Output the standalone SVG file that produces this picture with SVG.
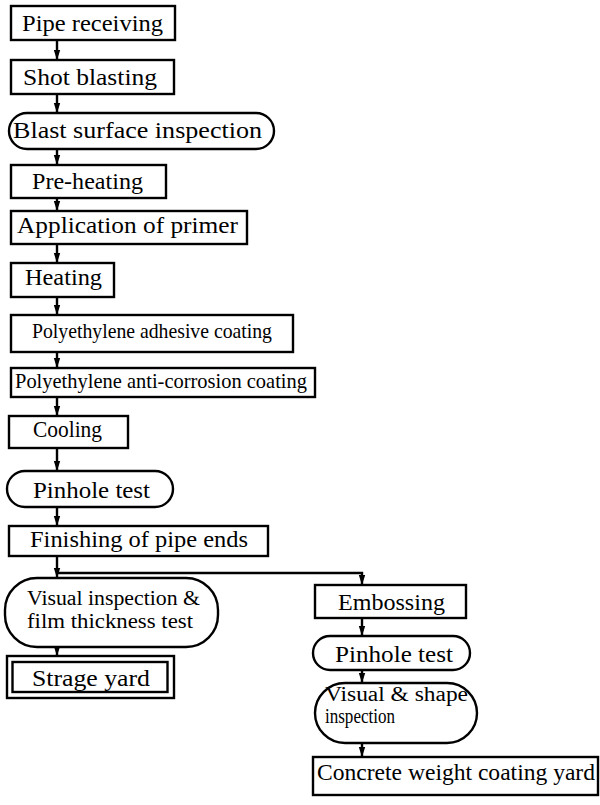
<svg xmlns="http://www.w3.org/2000/svg" width="600" height="805" viewBox="0 0 600 805">
<style>
.b{fill:#fff;stroke:#000;stroke-width:2.4}
.t{font-family:"Liberation Serif","Times New Roman",serif;font-size:24px;fill:#000}
.s{font-size:21px}
.m{font-size:20px}
.c{fill:none;stroke:#000;stroke-width:2.4}
</style>
<defs>
<marker id="ad" markerWidth="8" markerHeight="10" refX="4" refY="10" orient="0" markerUnits="userSpaceOnUse" viewBox="0 0 8 10">
<path d="M0.8,0 L7.2,0 L4,10 Z" fill="#000"/>
</marker>
</defs>
<rect width="600" height="805" fill="#fff"/>
<g id="connectors">
<path class="c" d="M57,40 V60" marker-end="url(#ad)"/>
<path class="c" d="M57,94 V113" marker-end="url(#ad)"/>
<path class="c" d="M57,149 V165" marker-end="url(#ad)"/>
<path class="c" d="M57,198 V211" marker-end="url(#ad)"/>
<path class="c" d="M57,244 V263" marker-end="url(#ad)"/>
<path class="c" d="M57,297 V315" marker-end="url(#ad)"/>
<path class="c" d="M57,352 V368" marker-end="url(#ad)"/>
<path class="c" d="M57,397 V416" marker-end="url(#ad)"/>
<path class="c" d="M57,448 V471" marker-end="url(#ad)"/>
<path class="c" d="M57,507 V526" marker-end="url(#ad)"/>
<path class="c" d="M57,556 V578" marker-end="url(#ad)"/>
<path class="c" d="M57,573 H362 V585" marker-end="url(#ad)"/>
<path class="c" d="M57,647 V656" marker-end="url(#ad)"/>
<path class="c" d="M362,618 V636" marker-end="url(#ad)"/>
<path class="c" d="M362,670 V683" marker-end="url(#ad)"/>
<path class="c" d="M362,743 V757" marker-end="url(#ad)"/>
</g>
<g id="n1"><rect class="b" x="11" y="6" width="164" height="34"/><text class="t" x="22" y="31" textLength="141" lengthAdjust="spacingAndGlyphs">Pipe receiving</text></g>
<g id="n2"><rect class="b" x="11" y="60" width="163" height="34"/><text class="t" x="23" y="85" textLength="134" lengthAdjust="spacingAndGlyphs">Shot blasting</text></g>
<g id="n3"><rect class="b" x="9" y="113" width="265" height="36" rx="18" ry="18"/><text class="t" x="13" y="138" textLength="249" lengthAdjust="spacingAndGlyphs">Blast surface inspection</text></g>
<g id="n4"><rect class="b" x="11" y="165" width="155" height="33"/><text class="t" x="32" y="189" textLength="111" lengthAdjust="spacingAndGlyphs">Pre-heating</text></g>
<g id="n5"><rect class="b" x="11" y="211" width="236" height="33"/><text class="t" x="17" y="233" textLength="221" lengthAdjust="spacingAndGlyphs">Application of primer</text></g>
<g id="n6"><rect class="b" x="11" y="263" width="103" height="34"/><text class="t" x="25" y="285" textLength="77" lengthAdjust="spacingAndGlyphs">Heating</text></g>
<g id="n7"><rect class="b" x="11" y="315" width="282" height="37"/><text class="t s" x="32" y="338" textLength="240" lengthAdjust="spacingAndGlyphs">Polyethylene adhesive coating</text></g>
<g id="n8"><rect class="b" x="11" y="368" width="304" height="29"/><text class="t s" x="15" y="388" textLength="292" lengthAdjust="spacingAndGlyphs">Polyethylene anti-corrosion coating</text></g>
<g id="n9"><rect class="b" x="9" y="416" width="119" height="32"/><text class="t" x="33" y="437" textLength="69" lengthAdjust="spacingAndGlyphs">Cooling</text></g>
<g id="n10"><rect class="b" x="7" y="471" width="166" height="36" rx="18" ry="18"/><text class="t" x="33" y="498" textLength="117" lengthAdjust="spacingAndGlyphs">Pinhole test</text></g>
<g id="n11"><rect class="b" x="9" y="526" width="259" height="30"/><text class="t" x="30" y="547" textLength="218" lengthAdjust="spacingAndGlyphs">Finishing of pipe ends</text></g>
<g id="n12"><rect class="b" x="5" y="578" width="213" height="69" rx="32" ry="32"/><text class="t m" x="27" y="605" textLength="173" lengthAdjust="spacingAndGlyphs">Visual inspection &amp;</text><text class="t m" x="27" y="628" textLength="166" lengthAdjust="spacingAndGlyphs">film thickness test</text></g>
<g id="n13"><rect class="b" x="7" y="656" width="167" height="42"/><rect class="b" x="12.5" y="662" width="155" height="30" stroke-width="3"/><text class="t" x="32" y="686" textLength="118" lengthAdjust="spacingAndGlyphs">Strage yard</text></g>
<g id="n14"><rect class="b" x="315" y="585" width="151" height="33"/><text class="t" x="338" y="610" textLength="107" lengthAdjust="spacingAndGlyphs">Embossing</text></g>
<g id="n15"><rect class="b" x="313" y="636" width="157" height="34" rx="17" ry="17"/><text class="t" x="335" y="662" textLength="118" lengthAdjust="spacingAndGlyphs">Pinhole test</text></g>
<g id="n16"><rect class="b" x="315" y="683" width="162" height="60" rx="30" ry="30"/><text class="t m" x="325" y="701" textLength="143" lengthAdjust="spacingAndGlyphs">Visual &amp; shape</text><text class="t m" x="325" y="723" textLength="70" lengthAdjust="spacingAndGlyphs">inspection</text></g>
<g id="n17"><rect class="b" x="313" y="757" width="285" height="38"/><text class="t" x="317" y="780" textLength="278" lengthAdjust="spacingAndGlyphs">Concrete weight coating yard</text></g>
</svg>
